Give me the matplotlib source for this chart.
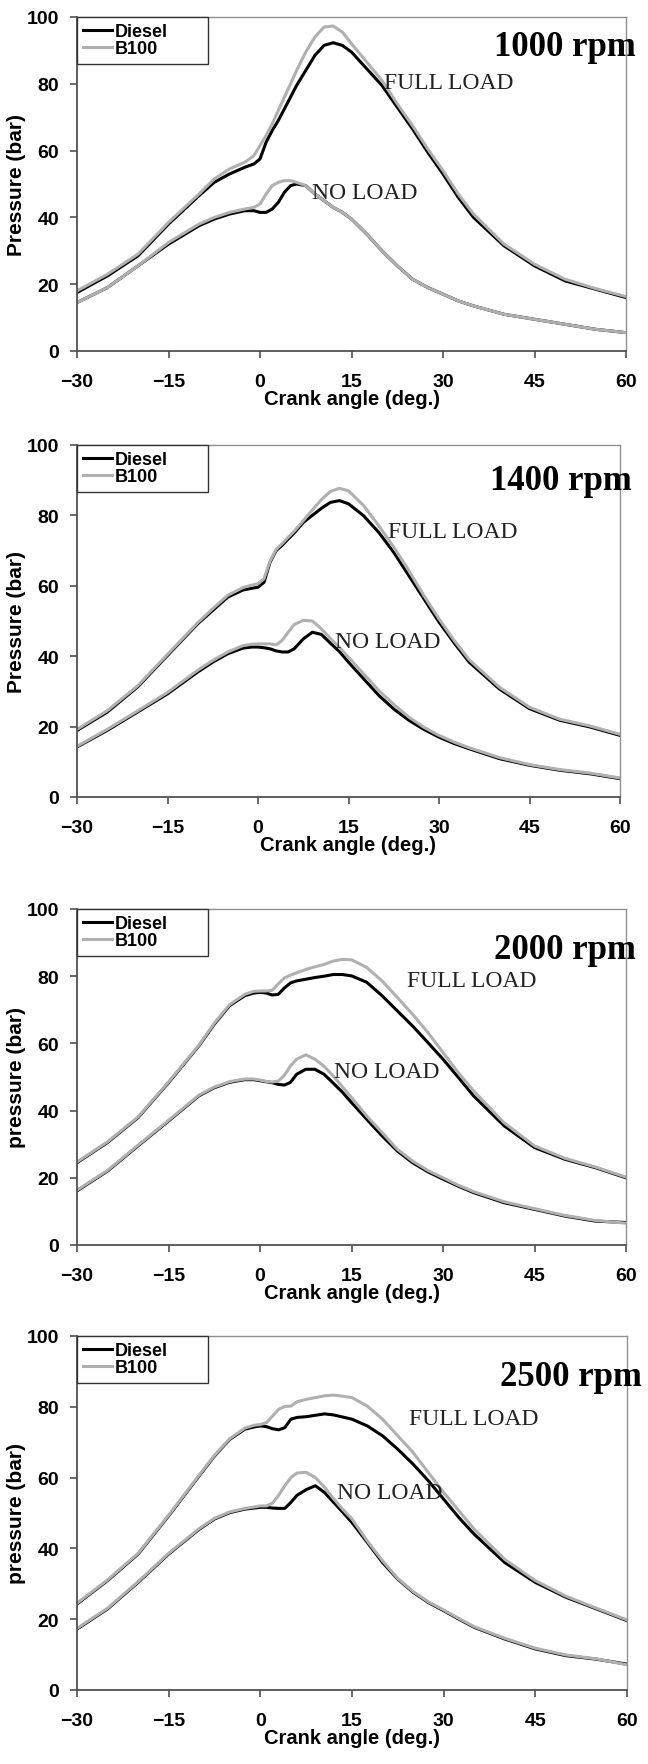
import matplotlib
matplotlib.use('Agg')
import matplotlib.pyplot as plt

# crank angles (deg) shared by all curves
angle = [-30, -25, -20, -15, -10, -7.5, -5, -2.5, -1, 0, 1, 2, 3, 4, 5, 6, 7.5, 9,
         10.5, 12, 13.5, 15, 17.5, 20, 22.5, 25, 27.5, 30, 32.5, 35, 40, 45, 50, 55, 60]

# 1000 rpm
d_full_1000 = [17.5, 22.5, 28.5, 38, 46.5, 50.5, 53, 55, 56, 57.5, 62.5, 66, 69, 72.5, 76, 79.5, 84, 88.5,
               91.5, 92.3, 91.5, 89.5, 84.5, 79.5, 73, 66.5, 59.5, 53, 46, 40, 31.5, 25.5, 21, 18.5, 16]
b_full_1000 = [18, 23, 29, 38.5, 47, 51.5, 54.5, 56.5, 58.5, 61.5, 64.5, 68, 72, 76, 80, 84, 89.5, 94,
               97, 97.3, 95.5, 92, 86.5, 81, 74, 67.5, 60.5, 54, 47, 41, 32, 26, 21.5, 18.7, 16.3]
d_none_1000 = [14.5, 19, 25.5, 32, 37.5, 39.5, 41, 42, 42, 41.5, 41.5, 42.5, 44.5, 47.5, 49.5, 50, 49.5, 47,
               45, 43, 41.5, 39.5, 35, 30, 25.5, 21.5, 19, 17, 15, 13.5, 11, 9.5, 8, 6.5, 5.5]
b_none_1000 = [14.5, 19, 25.5, 32.5, 38, 40, 41.5, 42.5, 43, 44, 47, 49.5, 50.5, 51, 51, 50.5, 49.5, 47,
               45, 43, 41.5, 39.5, 35, 30, 25.5, 21.5, 19, 17, 15, 13.5, 11, 9.5, 8, 6.5, 5.5]

# 1400 rpm
d_full_1400 = [18.9, 24.1, 31.2, 40.2, 49.2, 53, 56.8, 58.8, 59.3, 59.6, 61, 66.7, 70, 71.5, 73.3, 75, 78, 80,
               82, 83.7, 84.2, 83.3, 79.9, 75.2, 69.5, 62.9, 56.3, 49.7, 43.8, 38.3, 30.7, 25.1, 21.8, 19.9, 17.5]
b_full_1400 = [19.2, 24.5, 31.5, 40.5, 49.5, 53.5, 57.3, 59.5, 60.2, 60.6, 62, 67, 70.3, 72, 73.8, 75.5, 78.5, 81.5,
               84.5, 86.8, 87.7, 87, 82.8, 77.1, 71, 64.3, 57.2, 50.6, 44.5, 39, 31.2, 25.5, 22.1, 20.2, 17.8]
d_none_1400 = [14.2, 18.9, 24.1, 29.3, 35.5, 38.3, 40.7, 42.3, 42.6, 42.6, 42.4, 42.1, 41.5, 41.2, 41.2, 42.1, 44.9, 46.8,
               46.2, 43.7, 41.3, 38.3, 33.6, 28.9, 25, 21.8, 19.2, 17, 15.2, 13.7, 10.9, 9, 7.6, 6.6, 5.2]
b_none_1400 = [14.4, 19.2, 24.4, 29.7, 36, 38.8, 41.2, 43, 43.4, 43.5, 43.5, 43.5, 43.2, 44.5, 46.8, 49, 50.2, 50,
               47.8, 45, 42.5, 39.7, 35, 30.3, 26.3, 22.7, 19.8, 17.5, 15.6, 14, 11.2, 9.2, 7.8, 6.8, 5.4]

# 2000 rpm
d_full_2000 = [24.5, 30.5, 37.9, 48.3, 59.3, 65.7, 71.2, 74.2, 75, 75.2, 75, 74.4, 74.6, 76.5, 78, 78.6, 79.1, 79.6,
               80, 80.5, 80.5, 80.1, 78.2, 74.2, 69.7, 65.2, 60.3, 55.3, 49.9, 44.4, 35.5, 29, 25.5, 23, 20]
b_full_2000 = [24.7, 30.7, 38.1, 48.5, 59.5, 66, 71.5, 74.6, 75.5, 75.6, 75.6, 75.8, 77.7, 79.5, 80.3, 81, 82, 82.8,
               83.5, 84.5, 85, 84.9, 82.6, 78.6, 73.7, 68.7, 63.3, 57.3, 51.3, 45.9, 36.4, 29.5, 25.8, 23.2, 20.2]
d_none_2000 = [16.1, 22, 29.5, 36.9, 44.4, 46.8, 48.4, 49.2, 49.2, 48.9, 48.6, 48.3, 47.8, 47.6, 48.4, 50.8, 52.3, 52.3,
               50.8, 48.2, 45.5, 42.4, 37.4, 32.5, 28, 24.5, 21.8, 19.6, 17.5, 15.6, 12.6, 10.6, 8.6, 7.1, 6.7]
b_none_2000 = [16.3, 22.2, 29.7, 37.1, 44.6, 47, 48.6, 49.4, 49.4, 49.1, 48.7, 48.5, 48.8, 50.5, 53.3, 55.3, 56.6, 55.3,
               53.2, 50.3, 47.1, 43.9, 38.4, 33.5, 28.5, 25, 22.2, 20, 17.8, 15.9, 12.9, 10.8, 8.8, 7.3, 6.5]

# 2500 rpm
d_full_2500 = [24.3, 30.9, 38.4, 49.2, 60.5, 66.1, 70.8, 73.7, 74.3, 74.6, 74.4, 73.8, 73.5, 74.1, 76.5, 77, 77.2, 77.6,
               78, 77.7, 77.1, 76.5, 74.6, 71.8, 68, 63.8, 59.1, 53.9, 48.7, 44, 36, 30.4, 26.2, 22.9, 19.6]
b_full_2500 = [24.5, 31.1, 38.6, 49.4, 60.7, 66.3, 71, 74, 74.8, 75, 75.5, 77.4, 79.3, 80.1, 80.2, 81.4, 82.1, 82.6,
               83.1, 83.3, 83, 82.6, 80.2, 76.5, 71.8, 67.1, 61.4, 55.8, 50.6, 45.4, 36.9, 30.9, 26.5, 23.1, 19.8]
d_none_2500 = [17.2, 22.9, 30.4, 38.4, 45.4, 48.3, 50.1, 51.1, 51.4, 51.6, 51.6, 51.4, 51.3, 51.3, 53, 55, 56.6, 57.7,
               55.8, 53, 50.2, 47.3, 41.7, 36, 31.3, 27.6, 24.7, 22.4, 20, 17.7, 14.4, 11.6, 9.7, 8.7, 7.3]
b_none_2500 = [17.4, 23.1, 30.6, 38.6, 45.6, 48.5, 50.3, 51.3, 51.7, 52, 52, 52.8, 55, 57.7, 60, 61.3, 61.5, 60,
               57.3, 54, 51, 48.3, 42.1, 36.5, 31.5, 27.8, 24.9, 22.6, 20.2, 17.9, 14.6, 11.8, 9.9, 8.8, 7.1]

speeds = ['1000 rpm', '1400 rpm', '2000 rpm', '2500 rpm']
ylabels = ['Pressure (bar)', 'Pressure (bar)', 'pressure (bar)', 'pressure (bar)']
diesel_full = [d_full_1000, d_full_1400, d_full_2000, d_full_2500]
b100_full = [b_full_1000, b_full_1400, b_full_2000, b_full_2500]
diesel_none = [d_none_1000, d_none_1400, d_none_2000, d_none_2500]
b100_none = [b_none_1000, b_none_1400, b_none_2000, b_none_2500]

# label anchors (data coords)
speed_pos = [(38.4, 91.3), (38.5, 89.8), (38.4, 88.0), (39.3, 88.7)]
full_pos = [(20.3, 80.5), (21.5, 75.3), (24.1, 78.6), (24.4, 76.6)]
none_pos = [(8.5, 47.6), (12.8, 44.3), (12.1, 51.5), (12.6, 55.9)]

# axes boxes in pixels: left, right, top, bottom
boxes = [(77, 626, 18, 352), (77, 620, 446, 798), (77, 626, 910, 1246), (77, 627, 1337, 1691)]

W, H = 648, 1765
fig = plt.figure(figsize=(W / 100, H / 100), dpi=100)
sans = ['Liberation Sans', 'DejaVu Sans']
serif = ['Liberation Serif', 'DejaVu Serif']
gray = '#b0b0b0'

for i in range(4):
    l, r, t, b = boxes[i]
    wpx, hpx = r - l, b - t
    ax = fig.add_axes([l / W, 1 - b / H, wpx / W, hpx / H])
    ax.plot(angle, diesel_full[i], color='black', lw=2.2, label='Diesel')
    ax.plot(angle, b100_full[i], color=gray, lw=2.2, label='B100')
    ax.plot(angle, diesel_none[i], color='black', lw=2.2)
    ax.plot(angle, b100_none[i], color=gray, lw=2.2)

    ax.set_xlim(-30, 60)
    ax.set_ylim(0, 100)
    ax.set_xticks([-30, -15, 0, 15, 30, 45, 60])
    ax.set_yticks([0, 20, 40, 60, 80, 100])
    ax.tick_params(direction='out', length=5, width=1.2, color='#505050')
    ax.tick_params(axis='x', pad=11)
    ax.tick_params(axis='y', pad=8)
    for lab in ax.get_xticklabels() + ax.get_yticklabels():
        lab.set_family(sans)
        lab.set_fontweight('bold')
        lab.set_fontsize(14)
    for s in ['left', 'bottom']:
        ax.spines[s].set_color('#505050')
        ax.spines[s].set_linewidth(1.3)
    for s in ['top', 'right']:
        ax.spines[s].set_color('#909090')
        ax.spines[s].set_linewidth(1.0)

    ax.set_xlabel('Crank angle (deg.)', family=sans, fontweight='bold', fontsize=14.5)
    ax.set_ylabel(ylabels[i], family=sans, fontweight='bold', fontsize=15)
    ax.xaxis.set_label_coords(0.5, -38 / hpx)
    ax.yaxis.set_label_coords(-60 / wpx, 0.5)
    ax.yaxis.label.set_va('center')

    ax.text(speed_pos[i][0], speed_pos[i][1], speeds[i], family=serif, fontweight='bold',
            fontsize=25, va='center', ha='left')
    ax.text(full_pos[i][0], full_pos[i][1], 'FULL LOAD', family=serif, fontsize=17,
            va='center', ha='left', color='#222222')
    ax.text(none_pos[i][0], none_pos[i][1], 'NO LOAD', family=serif, fontsize=17,
            va='center', ha='left', color='#222222')

    leg = ax.legend(loc='upper left', bbox_to_anchor=(0, 0, 131 / wpx, 1), mode='expand',
                    borderaxespad=0, prop={'family': sans, 'weight': 'bold', 'size': 13},
                    handlelength=1.6, handletextpad=0.15, labelspacing=0.0,
                    borderpad=0.35, fancybox=False, framealpha=1)
    leg.get_frame().set_edgecolor('#333333')
    leg.get_frame().set_linewidth(1.0)

fig.savefig('out.png', dpi=100)
